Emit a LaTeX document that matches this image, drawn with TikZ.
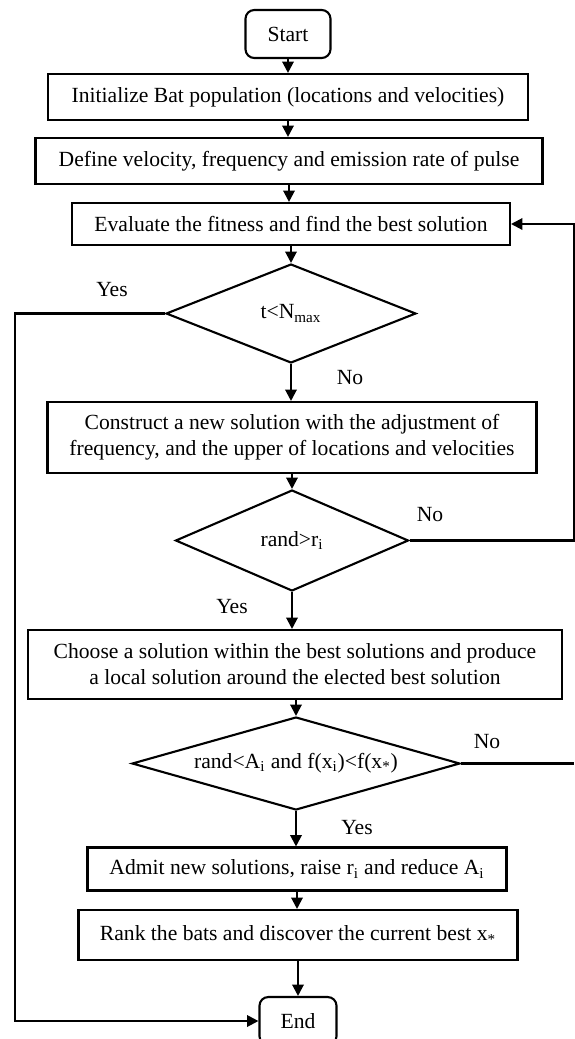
\documentclass[tikz,border=0pt]{standalone}
\usepackage{fontspec}
\setmainfont{Liberation Serif}
\usetikzlibrary{arrows.meta,shapes.geometric}

\begin{document}
\begin{tikzpicture}[x=0.02cm,y=-0.02cm,
    font=\fontsize{12.3}{14.8}\selectfont,
    arr/.style={-{Triangle[length=6.5pt,width=6.5pt]},line width=1.2pt},
    box/.style={draw,line width=1.2pt,align=center,inner sep=2pt},
    term/.style={box,rounded corners=5pt,minimum width=1.7cm,minimum height=0.96cm},
    decision/.style={draw,diamond,line width=1.2pt,inner sep=0pt,align=center}]
  \useasboundingbox (0,0) rectangle (575,1039);

  % Start and set-up
  \node[term] (start) at (288,34) {Start};
  \node[box,minimum width=9.6cm,minimum height=0.92cm] (init) at (288,97)
    {Initialize Bat population (locations and velocities)};
  \node[box,minimum width=10.14cm,minimum height=0.92cm] (define) at (289,161)
    {Define velocity, frequency and emission rate of pulse};
  \node[box,minimum width=8.76cm,minimum height=0.84cm] (eval) at (291,224)
    {Evaluate the fitness and find the best solution};

  % Main loop test
  \node[decision,aspect=2.5,minimum width=5cm,minimum height=1.98cm] (iter) at (291,313.5)
    {t<N\textsubscript{max}};
  \node[box,minimum width=9.78cm,minimum height=1.42cm] (construct) at (292,437.5)
    {Construct a new solution with the adjustment of\\
     frequency, and the upper of locations and velocities};
  \node[decision,aspect=2.3,minimum width=4.66cm,minimum height=2.02cm] (pulse) at (292,540.5)
    {rand>r\textsubscript{i}};

  % Local search
  \node[box,minimum width=10.68cm,minimum height=1.38cm] (choose) at (295,664.5)
    {Choose a solution within the best solutions and produce\\
     a local solution around the elected best solution};
  \node[decision,aspect=3.5,minimum width=6.56cm,minimum height=1.86cm] (accept) at (296,763.5)
    {rand<A\textsubscript{i} and f(x\textsubscript{i})<f(x\textsubscript{*})};
  \node[box,minimum width=8.38cm,minimum height=0.86cm] (admit) at (297,869)
    {Admit new solutions, raise r\textsubscript{i} and reduce A\textsubscript{i}};
  \node[box,minimum width=8.78cm,minimum height=1cm] (rank) at (298,935)
    {Rank the bats and discover the current best x\textsubscript{*}};
  \node[term,minimum width=1.54cm] (stop) at (298,1021) {End};

  % Side rails
  \coordinate (lrail) at (15,0);
  \coordinate (rrail) at (574,0);

  % Arrows
  \draw[arr] (start) -- (start.south |- init.north);
  \draw[arr] (init.south) -- (init.south |- define.north);
  \draw[arr] (define.south) -- (define.south |- eval.north);
  \draw[arr] (eval.south) -- (eval.south |- iter.north);
  \draw[arr] (iter.south) -- (iter.south |- construct.north);
  \draw[arr] (construct.south) -- (construct.south |- pulse.north);
  \draw[arr] (pulse.south) -- (pulse.south |- choose.north);
  \draw[arr] (choose.south -| accept.north) -- (accept.north);
  \draw[arr] (accept.south) -- (accept.south |- admit.north);
  \draw[arr] (admit.south) -- (admit.south |- rank.north);
  \draw[arr] (rank.south) -- (rank.south |- stop.north);
  \draw[arr] (iter.west) -- (iter.west -| lrail) |- (stop.west);
  \draw[arr] (pulse.east) -- (pulse.east -| rrail) |- (eval.east);
  \draw[line width=1.2pt] (accept.east) -- (accept.east -| rrail);

  % Labels
  \node (yes1) at (112,290) {Yes};
  \node (no1) at (350,378) {No};
  \node (no2) at (430,515) {No};
  \node (yes2) at (232,607) {Yes};
  \node (no3) at (487,742) {No};
  \node (yes3) at (357,828) {Yes};
\end{tikzpicture}
\end{document}
